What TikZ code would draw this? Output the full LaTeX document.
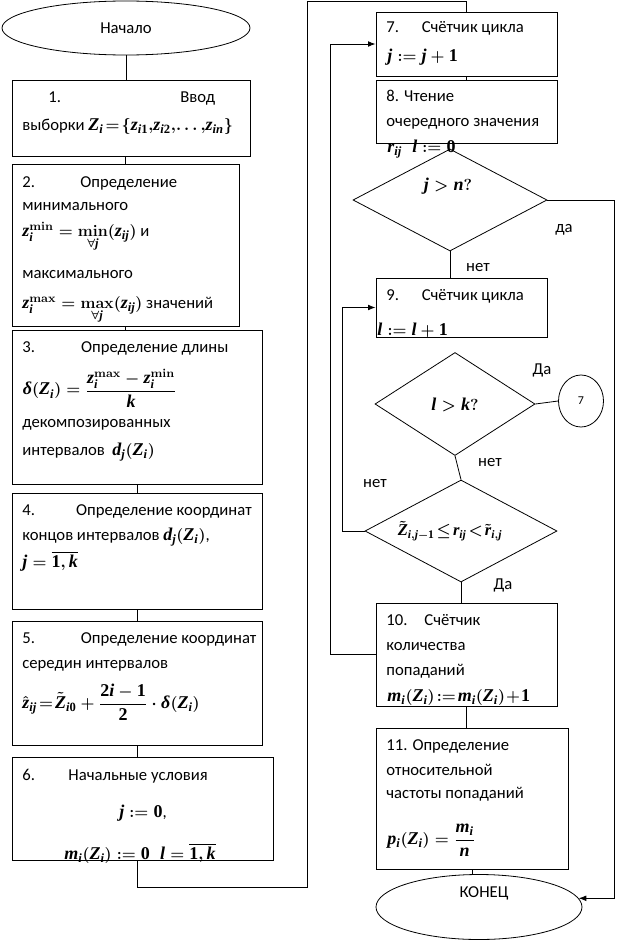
\documentclass[tikz,border=0pt]{standalone}
\usepackage{amsmath,amssymb}
\usepackage{mathspec}
\setmainfont{Carlito}
\setmathsfont(Digits,Latin,Greek)[UprightFont=* Bold, ItalicFont=* Bold Italic, BoldFont=* Bold, BoldItalicFont=* Bold Italic, Scale=1.08]{Liberation Serif}
\usetikzlibrary{arrows.meta,shapes.geometric,fit}

\begin{document}
\begin{tikzpicture}[x=0.75pt, y=-0.75pt, line width=0.6pt, >={Latex[length=2mm,width=1.5mm]},
	every node/.style={font=\fontsize{12.5}{15}\selectfont\boldmath},
	blk/.style={draw, rectangle, inner sep=0pt},
	txt/.style={anchor=base west, inner sep=0pt},
	lbl/.style={inner sep=0pt},
	dec/.style={draw, diamond, inner sep=0pt}]
	\useasboundingbox (0,0) rectangle (630,942);
	% left column
	\node[draw, ellipse, minimum width=186pt, minimum height=40.5pt, inner sep=0pt] (start) at (126,28) {Начало};
	\node[blk, fit={(12,80) (250,156)}] (b1) {};
	\node[blk, fit={(12,164) (239,326)}] (b2) {};
	\node[blk, fit={(12,330) (262,484)}] (b3) {};
	\node[blk, fit={(12,493) (262,609)}] (b4) {};
	\node[blk, fit={(12,621) (262,745)}] (b5) {};
	\node[blk, fit={(12,757) (273,860)}] (b6) {};
	\node[txt] (t1a) at (48,103) {\makebox[125pt][l]{1.\hfill Ввод}};
	\node[txt] (t1b) at (22,130) {выборки $Z_i\!=\!\{z_{i1},\!z_{i2},\!\dots,\!z_{in}\}$};
	\node[txt] (t2a) at (22,187) {\makebox[116pt][l]{2.\hfill Определение}};
	\node[txt] (t2b) at (22,210) {минимального};
	\node[txt] (t2c) at (22,236) {$z_i^{\min}=\underset{\forall j}{\mathbf{min}}(z_{ij})$ и};
	\node[txt] (t2d) at (22,278) {максимального};
	\node[txt] (t2e) at (22,308) {$z_i^{\max}=\underset{\forall j}{\mathbf{max}}(z_{ij})$ значений};
	\node[txt] (t3a) at (22,352) {\makebox[154.5pt][l]{3.\hfill Определение длины}};
	\node[txt, anchor=west] (t3b) at (22,388) {$\delta(Z_i)=\dfrac{z_i^{\max}-z_i^{\min}}{k}$};
	\node[txt] (t3c) at (22,427) {декомпозированных};
	\node[txt] (t3d) at (22,455) {интервалов\ \ $d_j(Z_i)$};
	\node[txt] (t4a) at (22,515) {\makebox[172pt][l]{4.\hfill Определение координат}};
	\node[txt] (t4b) at (22,540) {концов интервалов $d_j(Z_i)$,};
	\node[txt] (t4c) at (22,567) {$j=\overline{1,k}$};
	\node[txt] (t5a) at (22,643) {\makebox[175.5pt][l]{5.\hfill Определение координат}};
	\node[txt] (t5b) at (22,668) {середин интервалов};
	\node[txt, anchor=west] (t5c) at (22,702) {$\hat z_{ij}\!=\!\tilde Z_{i0}+\dfrac{2i-1}{2}\cdot\delta(Z_i)$};
	\node[txt] (t6a) at (22,780) {\makebox[139pt][l]{6.\hfill Начальные условия}};
	\node[txt, anchor=base] (t6b) at (143,817) {$j:=0$,};
	\node[txt, anchor=base] (t6c) at (140,859) {$m_i(Z_i):=0\;\; l=\overline{1,k}$};
	% right column
	\node[blk, fit={(376,12) (557,76)}] (b7) {};
	\node[blk, fit={(376,80) (557,143)}] (b8) {};
	\node[dec, minimum width=145.5pt, minimum height=76.5pt] (d1) at (450,200) {};
	\node[blk, fit={(376,278) (547,337)}] (b9) {};
	\node[dec, minimum width=120pt, minimum height=77.25pt] (d2) at (455,404) {};
	\node[draw, ellipse, minimum width=33.75pt, minimum height=39pt, inner sep=0pt, font=\fontsize{9}{10}\selectfont] (c7) at (581,401) {7};
	\node[dec, minimum width=144pt, minimum height=76.5pt] (d3) at (461,531) {};
	\node[blk, fit={(376,603) (557,706)}] (b10) {};
	\node[blk, fit={(376,728) (568,869)}] (b11) {};
	\node[draw, ellipse, minimum width=154.5pt, minimum height=48.75pt, inner sep=0pt] (end) at (479,907) {};
	\node[txt] (t7a) at (386,33) {\makebox[103pt][l]{7.\hfill Счётчик цикла}};
	\node[txt] (t7b) at (387,62) {$j:=j+1$};
	\node[txt] (t8a) at (386,102) {8. Чтение};
	\node[txt] (t8b) at (386,127) {очередного значения};
	\node[txt] (t8c) at (387,152) {$r_{ij}\;\; l:=0$};
	\node[lbl] (q1) at (448,186) {$j>n?$};
	\node[txt] (t9a) at (386,300) {\makebox[103pt][l]{9.\hfill Счётчик цикла}};
	\node[txt] (t9b) at (377,335) {$l:=l+1$};
	\node[lbl] (q2) at (455,405) {$l>k?$};
	\node[lbl, font=\fontsize{11.5}{14}\selectfont\boldmath] (q3) at (450,531) {$\tilde Z_{i,j-1}\!\le\! r_{ij}\!<\!\tilde r_{i,j}$};
	\node[txt] (t10a) at (386,625) {\makebox[70.5pt][l]{10.\hfill Счётчик}};
	\node[txt] (t10b) at (386,650) {количества};
	\node[txt] (t10c) at (386,675) {попаданий};
	\node[txt] (t10d) at (387,701) {$m_i(Z_i)\!:=\!m_i(Z_i)\!+\!1$};
	\node[txt] (t11a) at (386,750) {11. Определение};
	\node[txt] (t11b) at (386,775) {относительной};
	\node[txt] (t11c) at (386,798) {частоты попаданий};
	\node[txt, anchor=west] (t11d) at (387,840) {$p_i(Z_i)=\dfrac{m_i}{n}$};
	\node[lbl] (tend) at (484,893) {КОНЕЦ};
	% branch labels
	\node[lbl] (da1) at (564,230) {да};
	\node[lbl] (net1) at (478,268) {нет};
	\node[lbl] (da2) at (542,370) {Да};
	\node[lbl] (net2) at (490,463) {нет};
	\node[lbl] (net3) at (375,484) {нет};
	\node[lbl] (da3) at (503,585) {Да};
	% connectors
	\coordinate (loopA) at (307,887);
	\coordinate (loopB) at (307,1);
	\coordinate (rgt) at (614,200);
	\coordinate (lp9) at (342,531);
	\draw (start.south) -- (start.south |- b1.north);
	\draw (b2.north |- b1.south) -- (b2.north);
	\draw (b2.south) -- (b2.south |- b3.north);
	\draw (b3.south) -- (b4.north);
	\draw (b4.south) -- (b5.north);
	\draw (b5.south) -- (b5.south |- b6.north);
	\draw (b5.south |- b6.south) |- (loopA) -- (loopB) -| (b7.north);
	\draw (b7.south) -- (b8.north);
	\draw (d1.south) -- (d1.south |- b9.north);
	\draw[->] (d1.east) -- (rgt) |- (end.5);
	\draw (d2.east) -- (c7.west);
	\draw (d2.south) -- (d3.north);
	\draw[->] (d3.west) -- (lp9) |- (b9.west);
	\draw (d3.south) -- (d3.south |- b10.north);
	\draw[->] (b10.west) -- ++(-45,0) |- (b7.west);
	\draw (b10.south) -- (b10.south |- b11.north);
	\draw (b11.south) -- (b11.south |- end.north);
\end{tikzpicture}
\end{document}
